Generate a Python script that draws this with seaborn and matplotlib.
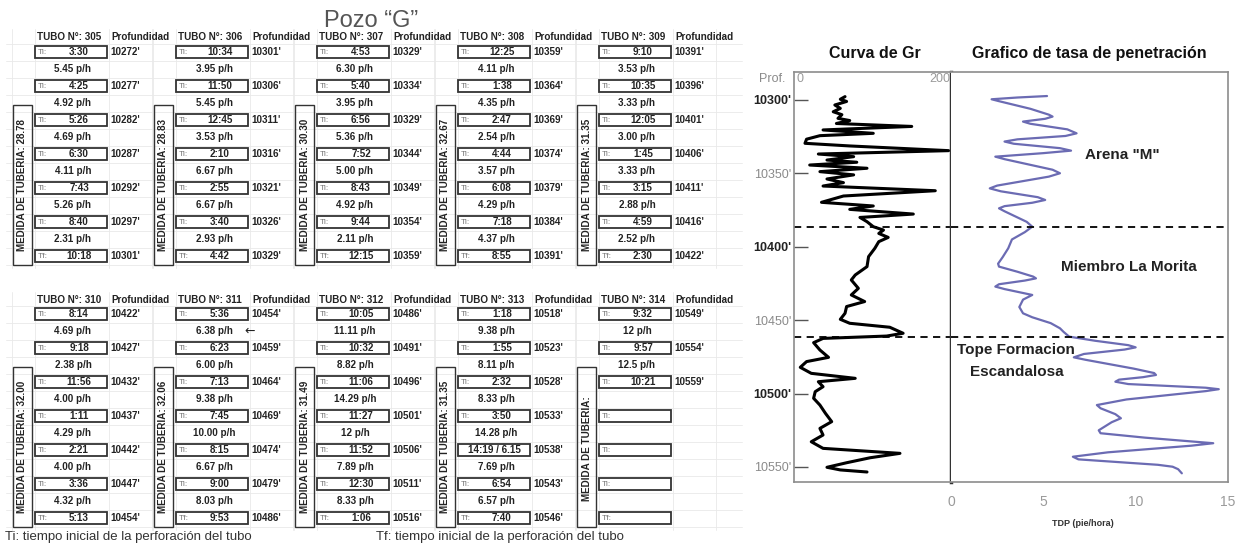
import numpy as np
import pandas as pd
import seaborn as sns
import matplotlib.pyplot as plt
from matplotlib import font_manager
from matplotlib.patches import Rectangle

sns.set_theme(style='white')
names = {f.name for f in font_manager.fontManager.ttflist}
has_narrow = 'Liberation Sans Narrow' in names
narrow = ['Liberation Sans Narrow', 'DejaVu Sans'] if has_narrow else ['Liberation Sans', 'DejaVu Sans']
plt.rcParams['font.family'] = ['Liberation Sans', 'DejaVu Sans']

# ---- table data (tubos)
tubos = [305, 306, 307, 308, 309, 310, 311, 312, 313, 314]
medidas = ['28.78', '28.83', '30.30', '32.67', '31.35', '32.00', '32.06', '31.49', '31.35', '']
tiempos = [
    ['3:30', '4:25', '5:26', '6:30', '7:43', '8:40', '10:18'],
    ['10:34', '11:50', '12:45', '2:10', '2:55', '3:40', '4:42'],
    ['4:53', '5:40', '6:56', '7:52', '8:43', '9:44', '12:15'],
    ['12:25', '1:38', '2:47', '4:44', '6:08', '7:18', '8:55'],
    ['9:10', '10:35', '12:05', '1:45', '3:15', '4:59', '2:30'],
    ['8:14', '9:18', '11:56', '1:11', '2:21', '3:36', '5:13'],
    ['5:36', '6:23', '7:13', '7:45', '8:15', '9:00', '9:53'],
    ['10:05', '10:32', '11:06', '11:27', '11:52', '12:30', '1:06'],
    ['1:18', '1:55', '2:32', '3:50', '14:19 / 6.15', '6:54', '7:40'],
    ['9:32', '9:57', '10:21', '', '', '', ''],
]
profundidades = [
    [10272, 10277, 10282, 10287, 10292, 10297, 10301],
    [10301, 10306, 10311, 10316, 10321, 10326, 10329],
    [10329, 10334, 10329, 10344, 10349, 10354, 10359],
    [10359, 10364, 10369, 10374, 10379, 10384, 10391],
    [10391, 10396, 10401, 10406, 10411, 10416, 10422],
    [10422, 10427, 10432, 10437, 10442, 10447, 10454],
    [10454, 10459, 10464, 10469, 10474, 10479, 10486],
    [10486, 10491, 10496, 10501, 10506, 10511, 10516],
    [10518, 10523, 10528, 10533, 10538, 10543, 10546],
    [10549, 10554, 10559],
]
tasas = [
    ['5.45', '4.92', '4.69', '4.11', '5.26', '2.31'],
    ['3.95', '5.45', '3.53', '6.67', '6.67', '2.93'],
    ['6.30', '3.95', '5.36', '5.00', '4.92', '2.11'],
    ['4.11', '4.35', '2.54', '3.57', '4.29', '4.37'],
    ['3.53', '3.33', '3.00', '3.33', '2.88', '2.52'],
    ['4.69', '2.38', '4.00', '4.29', '4.00', '4.32'],
    ['6.38', '6.00', '9.38', '10.00', '6.67', '8.03'],
    ['11.11', '8.82', '14.29', '12', '7.89', '8.33'],
    ['9.38', '8.11', '8.33', '14.28', '7.69', '6.57'],
    ['12', '12.5'],
]

# ---- curva de Gr (profundidad, API)
gr_prof = [10297.7, 10299.5, 10301, 10303.4, 10305.7, 10308, 10310, 10312.5, 10314, 10316,
           10318, 10320.4, 10322.7, 10324.3, 10326.7, 10329.5, 10331.3, 10334.5, 10336.8, 10338.6,
           10340.9, 10342.4, 10344.3, 10346.5, 10348.8, 10351, 10353.8, 10356.3, 10358.6, 10361.8,
           10365.4, 10369.7, 10372.2, 10374.5, 10377.7, 10380, 10382.9, 10386.3, 10388.6, 10390.9,
           10393.6, 10396.5, 10401, 10406.7, 10413.5, 10419.2, 10422.6, 10428.3, 10432.8, 10437.3,
           10440.7, 10445.3, 10449.4, 10452.1, 10454.8, 10458.9, 10460.8, 10462.4, 10465.3, 10470.3,
           10475.3, 10478.2, 10482.1, 10486.2, 10489.6, 10491.9, 10495.3, 10498.7, 10503.2, 10507.8,
           10513.4, 10519.1, 10523.7, 10528.2, 10532.8, 10537.3, 10540.7, 10543.7, 10547.1, 10550.2,
           10552, 10553.4]
gr_api = [65, 59, 67, 52, 59, 50, 61, 56, 71, 54,
          150, 37, 101, 33, 16, 14, 71, 197, 31, 76,
          42, 80, 20, 93, 33, 76, 42, 63, 37, 180,
          63, 35, 101, 71, 152, 84, 93, 101, 114, 108,
          120, 108, 103, 95, 93, 78, 73, 82, 73, 90,
          67, 65, 59, 71, 122, 139, 118, 37, 25, 33,
          44, 16, 8, 22, 78, 31, 37, 27, 25, 33,
          40, 48, 33, 37, 22, 37, 135, 97, 67, 42,
          59, 93]

# ---- tasa de penetracion (profundidad, pie/hora)
tdp_prof = [10297.3, 10298.3, 10299.5, 10300.8, 10306, 10310.0, 10311.3, 10312.8, 10314.7, 10316.2,
            10320, 10322.7, 10324.5, 10326.8, 10328.3, 10329.8, 10332.8, 10334.5, 10336.2, 10338.6,
            10340.3, 10347.5, 10349.9, 10352.2, 10358.3, 10360.2, 10362.2, 10366.2, 10368.1, 10370.0,
            10372.3, 10373.8, 10375.8, 10383, 10386.3, 10390, 10395, 10401, 10407, 10411.5,
            10413.5, 10417, 10420.3, 10421.5, 10423, 10425.5, 10427.1, 10428.8, 10432.8, 10436,
            10441, 10445.3, 10448, 10452, 10455.5, 10458, 10461.2, 10464, 10467, 10468.5,
            10470, 10473, 10475.3, 10477, 10483, 10486, 10487.3, 10488.8, 10490.5, 10491.9,
            10493.5, 10496, 10497, 10498.3, 10504, 10507.8, 10510, 10514, 10516.8, 10519.5,
            10525, 10527, 10530, 10533.8, 10535.5, 10540, 10543, 10544.8, 10548.5, 10549.8,
            10551.5, 10554.3]
tdp_val = [5.2, 3.6, 2.2, 2.6, 4.3, 5.3, 5.5, 5.1, 3.9, 4.3,
           6.3, 6.8, 6.2, 3.6, 2.9, 3.4, 5.9, 6.5, 5.0, 2.4,
           2.9, 5.5, 5.9, 5.3, 2.5, 2.1, 2.7, 4.7, 5.1, 4.4,
           2.9, 2.6, 2.9, 4.1, 4.4, 4.0, 3.3, 3.1, 2.8, 2.55,
           2.6, 3.6, 4.45, 4.6, 4.0, 2.6, 2.4, 2.9, 4.4, 3.9,
           3.7, 3.9, 4.4, 5.4, 5.9, 6.1, 6.4, 7.8, 9.6, 10.0,
           9.4, 7.2, 6.65, 7.3, 9.9, 11.0, 11.1, 10.4, 9.1, 8.9,
           9.6, 13.8, 14.5, 13.8, 9.5, 7.9, 8.1, 8.9, 9.2, 8.7,
           8.0, 8.1, 10.5, 14.2, 13.0, 8.5, 6.6, 6.9, 11.2, 12.0,
           12.3, 12.5]

profundidad_ticks = [10300, 10350, 10400, 10450, 10500, 10550]
topes = [10386.5, 10461.4]

W, H = 1238, 548
fig = plt.figure(figsize=(W / 100, H / 100), dpi=100)
fig.patch.set_facecolor('white')

# ---------------- table ----------------
tab = fig.add_axes([0, 0, 1, 1])
tab.set_xlim(0, W)
tab.set_ylim(H, 0)
tab.axis('off')

tfs = 8.5 if has_narrow else 7.1
txt_kw = dict(family=narrow, fontsize=tfs, color='#222222', fontweight='bold')
pitch = 34
bw, bh = 72, 12
grid_c = '#e9e9e9'

for blk, (hy, by) in enumerate([(37, 52), (300, 314)]):
    for yy in np.arange(by - 8, by + 6 * pitch + 10, pitch / 2):
        tab.plot([6, 742], [yy, yy], color=grid_c, lw=0.6, zorder=0)

for k, tubo in enumerate(tubos):
    blk, j = divmod(k, 5)
    hy, by = [(37, 52), (300, 314)][blk]
    x0 = 35 + 141 * j
    for xx in [x0 - 23, x0, x0 + bw + 2, x0 + bw + 45]:
        tab.plot([xx, xx], [hy - 8, by + 6 * pitch + 12], color=grid_c, lw=0.6, zorder=0)
    tab.text(x0 + 2, hy, f'TUBO N°: {tubo}', ha='left', va='center', **txt_kw)
    tab.text(x0 + bw + 4, hy, 'Profundidad', ha='left', va='center', **txt_kw)
    # recuadro vertical con la medida de tuberia
    ry0, ry1 = by + 2 * pitch - 15, by + 6 * pitch + 9
    tab.add_patch(Rectangle((x0 - 22, ry0), 19, ry1 - ry0, fill=False, ec='#333333', lw=1.0))
    tab.text(x0 - 12.5, (ry0 + ry1) / 2, f'MEDIDA DE TUBERIA: {medidas[k]}', rotation=90,
             ha='center', va='center', **txt_kw)
    for i in range(7):
        cy = by + i * pitch
        tab.add_patch(Rectangle((x0, cy - bh / 2), bw, bh, fill=False, ec='#333333', lw=1.3))
        t = tiempos[k][i]
        pref = 'Ti:' if i < 6 else 'Tf:'
        if '/' not in t:
            tab.text(x0 + 3, cy, pref, ha='left', va='center', family=narrow,
                     fontsize=tfs - 1, color='#777777')
            tab.text(x0 + 44, cy, t, ha='center', va='center', **txt_kw)
        else:
            tab.text(x0 + 36, cy, t, ha='center', va='center', **txt_kw)
        if i < len(profundidades[k]):
            tab.text(x0 + bw + 3, cy, f"{profundidades[k][i]}'", ha='left', va='center', **txt_kw)
        if i < len(tasas[k]):
            tab.text(x0 + 38, cy + pitch / 2, f'{tasas[k][i]} p/h', ha='center', va='center', **txt_kw)
    if tubo == 311:
        tab.text(x0 + 68, by + pitch / 2, '←', ha='left', va='center',
                 family=['DejaVu Sans'], fontsize=9, color='#222222')

tab.text(371, 21, 'Pozo “G”', ha='center', va='center', fontsize=17, color='#555555')
tab.text(5, 537, 'Ti: tiempo inicial de la perforación del tubo', ha='left', va='center',
         fontsize=9.5, color='#333333')
tab.text(376, 537, 'Tf: tiempo inicial de la perforación del tubo', ha='left', va='center',
         fontsize=9.5, color='#333333')

# ---------------- log charts ----------------
top_px, bot_px = 72, 482
ax_gr = fig.add_axes([794 / W, (H - bot_px) / H, 157 / W, (bot_px - top_px) / H])
ax_tdp = fig.add_axes([951 / W, (H - bot_px) / H, 277 / W, (bot_px - top_px) / H])
ylo = 10300 - (100 - top_px) / 1.468
yhi = 10550 + (bot_px - 467) / 1.468

sns.lineplot(x=gr_api, y=gr_prof, sort=False, orient='y', estimator=None,
             color='black', lw=2.2, ax=ax_gr)
sns.lineplot(x=tdp_val, y=tdp_prof, sort=False, orient='y', estimator=None,
             color='#6b6bb3', lw=1.6, ax=ax_tdp)

for ax in (ax_gr, ax_tdp):
    ax.set_ylim(yhi, ylo)
    ax.set_xlabel('')
    ax.set_ylabel('')
    for d in topes:
        ax.axhline(d, color='black', lw=1.3, ls=(0, (4, 3)))
    for s in ax.spines.values():
        s.set_color('#8c8c8c')
        s.set_linewidth(1.2)
        s.set_visible(True)

ax_gr.set_xlim(0, 200)
ax_gr.set_xticks([])
ax_gr.set_yticks(profundidad_ticks)
ax_gr.set_yticklabels([f"{d}'" for d in profundidad_ticks])
ax_gr.tick_params(axis='y', direction='in', length=10, width=1, color='#555555',
                  labelsize=9, pad=2, left=True)
for lab, d in zip(ax_gr.get_yticklabels(), profundidad_ticks):
    if d % 100 == 0:
        lab.set_color('#222222')
        lab.set_fontweight('bold')
    else:
        lab.set_color('#8a8a8a')
ax_gr.spines['right'].set_color('#333333')
ax_gr.spines['right'].set_linewidth(2.5)
ax_gr.text(-0.14, 0.983, 'Prof.', transform=ax_gr.transAxes, ha='center', va='center',
           fontsize=9, color='#8a8a8a')
ax_gr.text(0.04, 0.983, '0', transform=ax_gr.transAxes, ha='center', va='center',
           fontsize=9, color='#9a9a9a')
ax_gr.text(0.93, 0.983, '200', transform=ax_gr.transAxes, ha='center', va='center',
           fontsize=9, color='#9a9a9a')

ax_tdp.set_xlim(0, 15)
ax_tdp.set_xticks([0, 5, 10, 15])
ax_tdp.set_yticks([])
ax_tdp.spines['left'].set_visible(False)
ax_tdp.tick_params(axis='x', length=0, labelsize=10, labelcolor='#9a9a9a', pad=9, bottom=True)

hfs = 13 if has_narrow else 11.5
afs = 12.5 if has_narrow else 11
ax_gr.text(0.516, 1.046, 'Curva de Gr', transform=ax_gr.transAxes, ha='center', va='center',
           family=narrow, fontsize=hfs, fontweight='bold', color='#111111')
ax_tdp.text(0.50, 1.046, 'Grafico de tasa de penetración', transform=ax_tdp.transAxes,
            ha='center', va='center', family=narrow, fontsize=hfs, fontweight='bold', color='#111111')
ax_tdp.text(0.477, -0.10, 'TDP (pie/hora)', transform=ax_tdp.transAxes, ha='center', va='center',
            family=narrow, fontsize=7.5 if has_narrow else 6.5, fontweight='bold', color='#333333')

ann_kw = dict(family=narrow, fontsize=afs, fontweight='bold', color='#222222', ha='center', va='center')
ax_tdp.text(9.3, 10337.5, 'Arena "M"', **ann_kw)
ax_tdp.text(9.65, 10413.8, 'Miembro La Morita', **ann_kw)
ax_tdp.text(3.5, 10470.3, 'Tope Formacion', **ann_kw)
ax_tdp.text(3.55, 10485.3, 'Escandalosa', **ann_kw)

fig.savefig('out.png', dpi=100, facecolor='white')
